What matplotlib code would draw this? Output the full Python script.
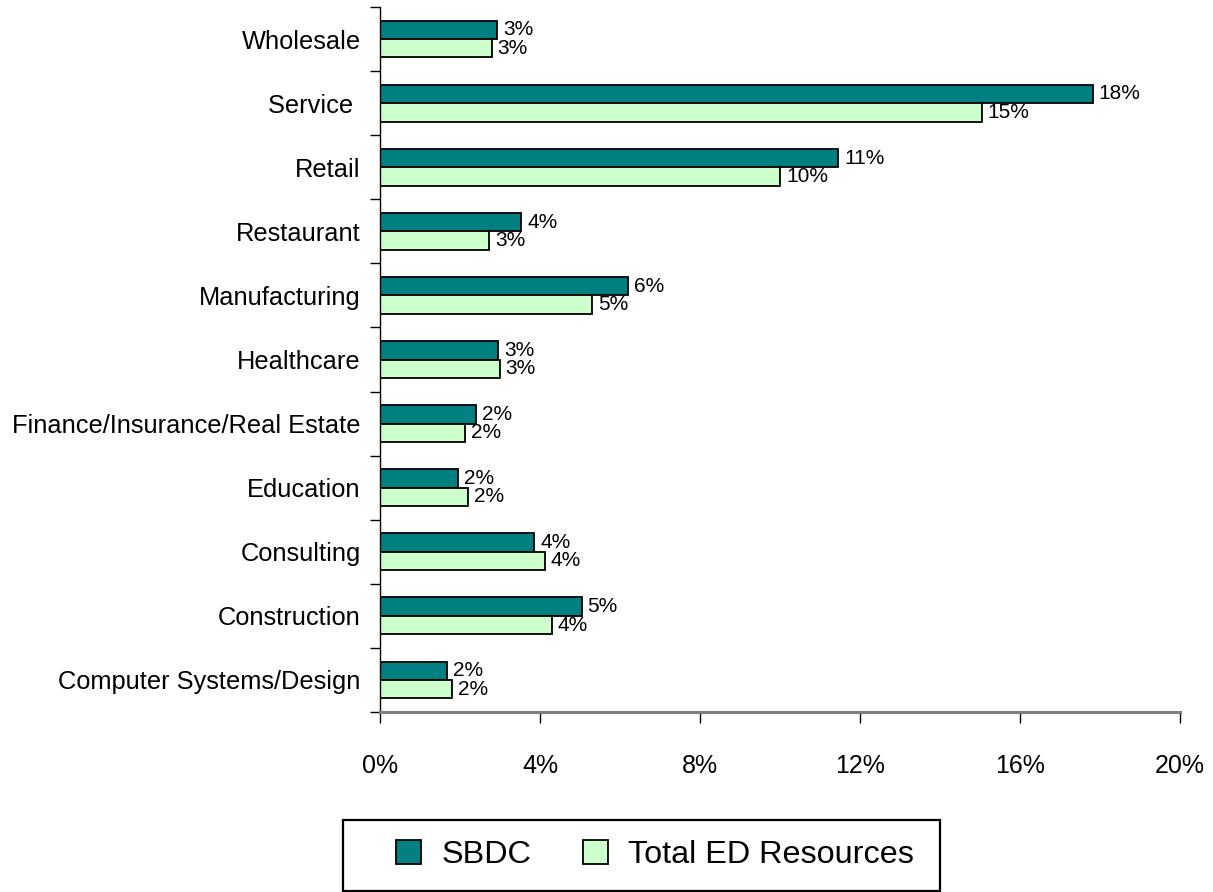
import matplotlib.pyplot as plt
from matplotlib.patches import Patch, Rectangle
from matplotlib.ticker import FixedLocator, PercentFormatter
import numpy as np

plt.rcParams['font.family'] = ['Liberation Sans', 'DejaVu Sans']

# industries, listed bottom to top
categories = ['Computer Systems/Design', 'Construction', 'Consulting', 'Education',
              'Finance/Insurance/Real Estate', 'Healthcare', 'Manufacturing',
              'Restaurant', 'Retail', 'Service ', 'Wholesale']
sbdc = [1.68, 5.04, 3.86, 1.96, 2.41, 2.96, 6.21, 3.53, 11.45, 17.82, 2.92]
total_ed = [1.81, 4.30, 4.12, 2.21, 2.12, 2.99, 5.31, 2.73, 10.0, 15.04, 2.79]
x_ticks = [0, 4, 8, 12, 16, 20]

teal = '#008080'
mint = '#CCFFCC'


def main():
    fig = plt.figure(figsize=(12.13, 8.92), dpi=100)
    ax = fig.add_axes([380 / 1213, 180 / 892, 800 / 1213, 705 / 892])

    y = np.arange(len(categories))
    h = 0.287
    bars1 = ax.barh(y + h / 2, sbdc, height=h, color=teal, edgecolor='black', linewidth=1.3)
    bars2 = ax.barh(y - h / 2, total_ed, height=h, color=mint, edgecolor='black', linewidth=1.3)

    for bars in (bars1, bars2):
        for b in bars:
            w = b.get_width()
            ax.text(w + 0.15, b.get_y() + b.get_height() / 2, f'{w:.0f}%',
                    va='center', ha='left', fontsize=15)

    ax.set_xlim(0, 20)
    ax.set_ylim(-0.5, len(categories) - 0.5)
    ax.set_xticks(x_ticks)
    ax.xaxis.set_major_formatter(PercentFormatter(decimals=0))
    ax.tick_params(axis='x', length=8, width=1, color='black', labelsize=18, pad=22)

    # tick marks between categories, labels at category centres
    ax.yaxis.set_major_locator(FixedLocator(np.arange(-0.5, len(categories), 1.0)))
    ax.set_yticklabels([])
    ax.yaxis.set_minor_locator(FixedLocator(y))
    ax.set_yticklabels(categories, minor=True)
    ax.tick_params(axis='y', which='major', length=7, width=1, direction='out')
    ax.tick_params(axis='y', which='minor', length=0, labelsize=18.3, pad=14)

    for side in ('top', 'right'):
        ax.spines[side].set_visible(False)
    ax.spines['left'].set_linewidth(1)
    ax.spines['bottom'].set_color('#808080')
    ax.spines['bottom'].set_linewidth(2.2)

    # legend box
    fig.patches.append(Rectangle((343 / 1213, 1 - 891 / 892), 597 / 1213, 71 / 892,
                                 transform=fig.transFigure, fill=False,
                                 edgecolor='black', linewidth=1.6))
    handles = [Patch(facecolor=teal, edgecolor='black', linewidth=1.3, label='SBDC'),
               Patch(facecolor=mint, edgecolor='black', linewidth=1.3, label='Total ED Resources')]
    fig.legend(handles=handles, loc='center', ncol=2, frameon=False,
               bbox_to_anchor=(655 / 1213, 1 - 855 / 892), fontsize=23.3,
               handlelength=0.78, handleheight=0.78, handletextpad=0.62,
               columnspacing=1.6)

    fig.savefig('out.png', dpi=100)


if __name__ == "__main__":
    main()
